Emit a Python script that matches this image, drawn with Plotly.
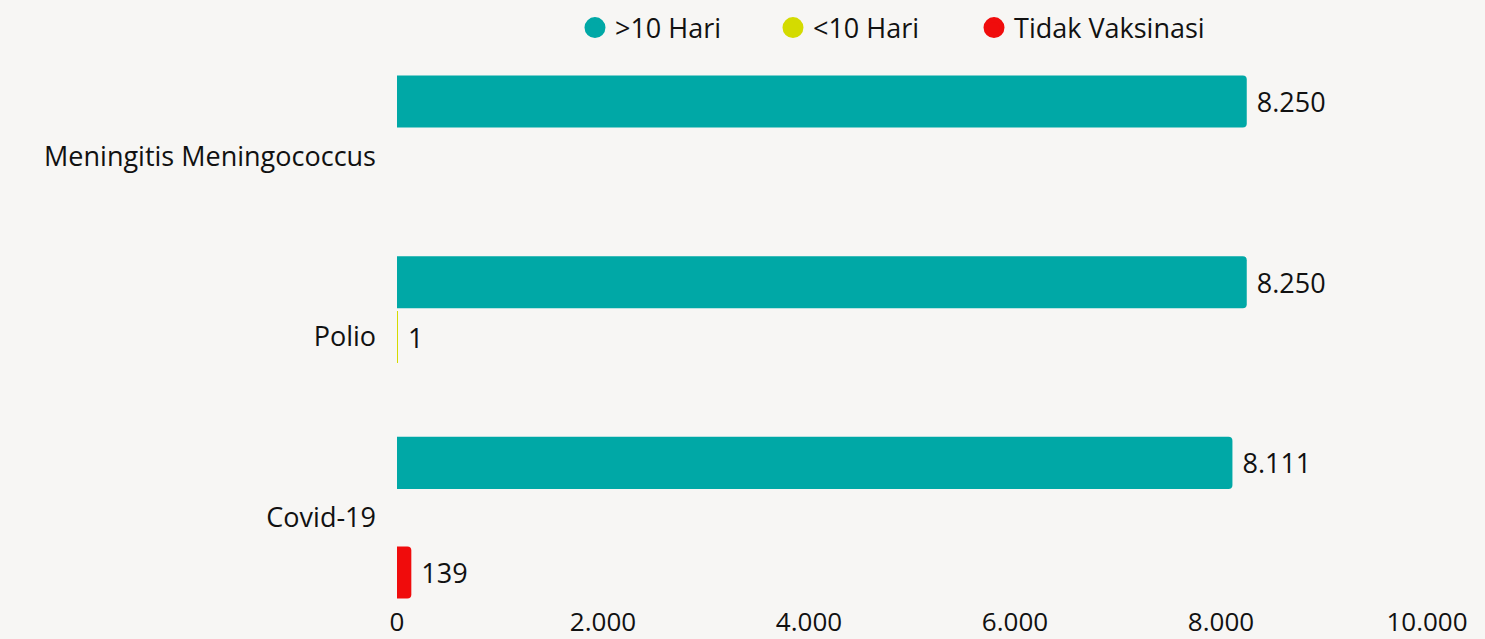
import plotly.graph_objects as go

categories = ["Meningitis Meningococcus", "Polio", "Covid-19"]
series_names = [">10 Hari", "<10 Hari", "Tidak Vaksinasi"]
over_10_hari = [8250, 8250, 8111]
under_10_hari = [None, 1, None]
tidak_vaksinasi = [None, None, 139]
x_ticks = [0, 2000, 4000, 6000, 8000, 10000]

colors = ["#00A8A6", "#D4DB00", "#F00C0C"]
legend_refs = ["legend", "legend", "legend2"]
FONT = "Open Sans"
FS = 27

fig = go.Figure()
for name, vals, col, lg in zip(series_names, [over_10_hari, under_10_hari, tidak_vaksinasi], colors, legend_refs):
    fig.add_trace(go.Bar(
        y=categories, x=vals, orientation="h", name=name,
        marker=dict(color=col, line=dict(width=0)),
        texttemplate=" %{x:,}", textposition="outside",
        textfont=dict(size=FS, color="#111111", family=FONT),
        cliponaxis=False, showlegend=False,
    ))
    fig.add_trace(go.Scatter(
        x=[None], y=[None], mode="markers", name=name, legend=lg,
        marker=dict(symbol="circle", size=16, color=col, line=dict(color=col, width=5)),
        showlegend=True,
    ))

legend_common = dict(orientation="h", y=1.07, yanchor="middle", xanchor="left",
                     font=dict(size=FS, family=FONT, color="#111111"), itemsizing="trace",
                     bgcolor="rgba(0,0,0,0)")

fig.update_layout(
    width=1485, height=639,
    margin=dict(l=397, r=58, t=66, b=31, autoexpand=False),
    paper_bgcolor="#F7F6F4", plot_bgcolor="rgba(0,0,0,0)",
    barmode="group", bargap=0.09, bargroupgap=0.05, barcornerradius=4,
    separators=",.",
    font=dict(family=FONT, size=FS, color="#111111"),
    legend=dict(x=0.1728, entrywidth=153, entrywidthmode="pixels", **legend_common),
    legend2=dict(x=0.5602, **legend_common),
    xaxis=dict(range=[0, 10000], tickvals=x_ticks, tickformat=",", showgrid=False,
               zeroline=False, showline=False, tickfont=dict(size=26), ticks="",
               ticklabelstandoff=-4),
    yaxis=dict(categoryorder="array", categoryarray=categories, autorange="reversed",
               showgrid=False, zeroline=False, showline=False, ticks="",
               ticklabelstandoff=20, tickfont=dict(size=FS)),
)

fig.write_html("out.html", config={"displayModeBar": False},
               post_script="document.body.style.margin='0';")
